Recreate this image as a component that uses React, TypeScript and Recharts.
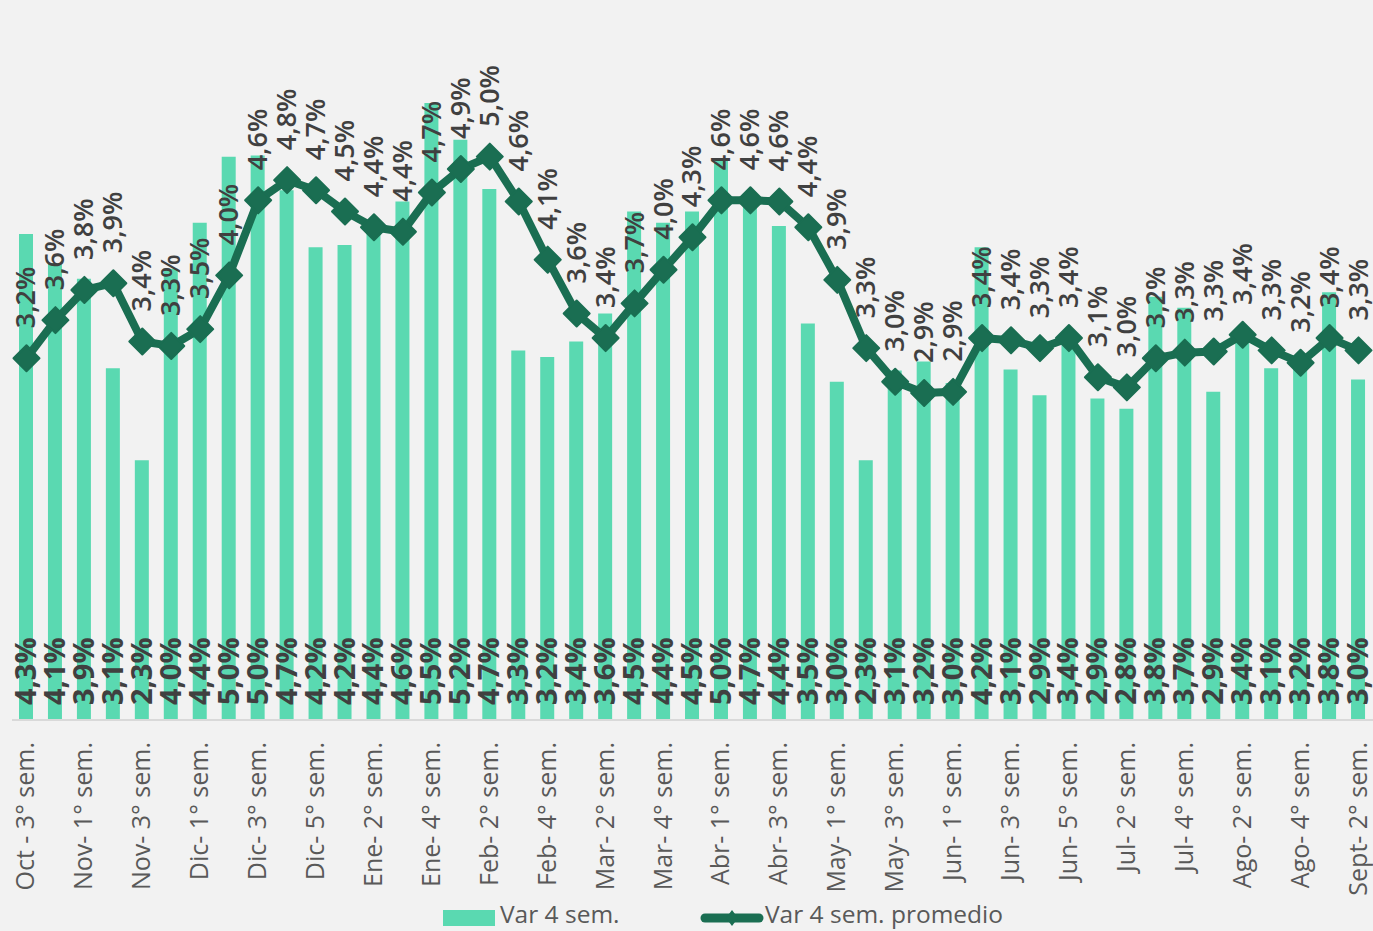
import { Bar, ComposedChart, LabelList, Legend, Line, XAxis, YAxis } from "recharts";

const SEMANAS = [
  "Oct - 3° sem.", "Oct - 4° sem.", "Nov- 1° sem.", "Nov- 2° sem.", "Nov- 3° sem.", "Nov- 4° sem.",
  "Dic- 1° sem.", "Dic- 2° sem.", "Dic- 3° sem.", "Dic- 4° sem.", "Dic- 5° sem.",
  "Ene- 1° sem.", "Ene- 2° sem.", "Ene- 3° sem.", "Ene- 4° sem.",
  "Feb- 1° sem.", "Feb- 2° sem.", "Feb- 3° sem.", "Feb- 4° sem.",
  "Mar- 1° sem.", "Mar- 2° sem.", "Mar- 3° sem.", "Mar- 4° sem.", "Mar- 5° sem.",
  "Abr- 1° sem.", "Abr- 2° sem.", "Abr- 3° sem.", "Abr- 4° sem.",
  "May- 1° sem.", "May- 2° sem.", "May- 3° sem.", "May- 4° sem.",
  "Jun- 1° sem.", "Jun- 2° sem.", "Jun- 3° sem.", "Jun- 4° sem.", "Jun- 5° sem.",
  "Jul- 1° sem.", "Jul- 2° sem.", "Jul- 3° sem.", "Jul- 4° sem.",
  "Ago- 1° sem.", "Ago- 2° sem.", "Ago- 3° sem.", "Ago- 4° sem.",
  "Sept- 1° sem.", "Sept- 2° sem.",
];

// Var 4 sem. (barras)
const VAR_4_SEM = [
  4.34, 4.08, 3.94, 3.14, 2.32, 4.03, 4.44, 5.03, 5.04, 4.73, 4.22, 4.24,
  4.38, 4.63, 5.51, 5.18, 4.74, 3.3, 3.24, 3.38, 3.63, 4.54, 4.44, 4.54,
  5.0, 4.7, 4.41, 3.54, 3.02, 2.32, 3.12, 3.2, 3.01, 4.22, 3.13, 2.9,
  3.4, 2.87, 2.78, 3.78, 3.68, 2.93, 3.4, 3.14, 3.18, 3.82, 3.04,
];

// Var 4 sem. promedio (línea)
const VAR_4_SEM_PROMEDIO = [
  3.23, 3.57, 3.84, 3.9, 3.38, 3.34, 3.49, 3.97, 4.64, 4.82, 4.73, 4.54,
  4.4, 4.36, 4.71, 4.92, 5.03, 4.63, 4.11, 3.63, 3.41, 3.72, 4.02, 4.31,
  4.64, 4.64, 4.63, 4.4, 3.93, 3.32, 3.02, 2.92, 2.93, 3.41, 3.39, 3.32,
  3.41, 3.06, 2.97, 3.23, 3.28, 3.29, 3.44, 3.3, 3.19, 3.41, 3.3,
];

const COLOR_BARRA = "#5AD9B1";
const COLOR_LINEA = "#1A6E52";
const COLOR_TEXTO = "#404040";
const COLOR_EJE = "#595959";
const FONT = "'Open Sans', sans-serif";

const data = SEMANAS.map((semana, i) => ({
  semana,
  var4: VAR_4_SEM[i],
  promedio: VAR_4_SEM_PROMEDIO[i],
}));

function pct(v: number): string {
  return v.toFixed(1).replace(".", ",") + "%";
}

function TickSemana(props: any) {
  const { x, y, payload } = props;
  const tx = x + 8;
  const ty = y + 20;
  return (
    <text
      x={tx}
      y={ty}
      transform={`rotate(-90 ${tx} ${ty})`}
      textAnchor="end"
      fontFamily={FONT}
      fontSize={25}
      fill={COLOR_EJE}
    >
      {payload.value}
    </text>
  );
}

function EtiquetaBarra(props: any) {
  const { x, y, width, height, value } = props;
  const tx = x + width / 2 + 10;
  const ty = y + height - 15;
  return (
    <text
      x={tx}
      y={ty}
      transform={`rotate(-90 ${tx} ${ty})`}
      textAnchor="start"
      fontFamily={FONT}
      fontWeight={700}
      fontSize={29}
      fill={COLOR_TEXTO}
    >
      {pct(value)}
    </text>
  );
}

function EtiquetaLinea(props: any) {
  const { x, y, value } = props;
  const tx = x + 9;
  const ty = y - 30;
  return (
    <text
      x={tx}
      y={ty}
      transform={`rotate(-90 ${tx} ${ty})`}
      textAnchor="start"
      fontFamily={FONT}
      fontWeight={600}
      fontSize={27}
      fill={COLOR_TEXTO}
    >
      {pct(value)}
    </text>
  );
}

function Rombo(props: any) {
  const { cx, cy, index } = props;
  const r = 13;
  return (
    <polygon
      key={`rombo-${index}`}
      points={`${cx},${cy - r} ${cx + r},${cy} ${cx},${cy + r} ${cx - r},${cy}`}
      fill={COLOR_LINEA}
      stroke={COLOR_LINEA}
      strokeWidth={2}
      strokeLinejoin="round"
    />
  );
}

function Leyenda() {
  const texto = {
    position: "absolute" as const,
    top: -3,
    fontFamily: FONT,
    fontSize: 24.5,
    lineHeight: "28px",
    color: COLOR_EJE,
    whiteSpace: "nowrap" as const,
  };
  return (
    <div style={{ position: "relative", height: 28 }}>
      <div style={{ position: "absolute", left: 431, top: 7, width: 52, height: 16, background: COLOR_BARRA }} />
      <span style={{ ...texto, left: 488 }}>Var 4 sem.</span>
      <svg style={{ position: "absolute", left: 688, top: 0 }} width={64} height={28}>
        <line x1={5} y1={15} x2={59} y2={15} stroke={COLOR_LINEA} strokeWidth={9} strokeLinecap="round" />
        <polygon points="32,7 38,15 32,23 26,15" fill={COLOR_LINEA} />
      </svg>
      <span style={{ ...texto, left: 753 }}>Var 4 sem. promedio</span>
    </div>
  );
}

export default function App() {
  return (
    <div style={{ position: "fixed", left: 0, top: 0, width: 1373, height: 931, background: "#F2F2F2" }}>
      <ComposedChart
        width={1373}
        height={931}
        data={data}
        margin={{ top: 48, right: 0, left: 12, bottom: 0 }}
      >
        <XAxis
          dataKey="semana"
          interval={1}
          tickLine={false}
          tickSize={0}
          height={183}
          axisLine={{ stroke: "#D9D9D9", strokeWidth: 2 }}
          tick={<TickSemana />}
        />
        <YAxis hide domain={[0, 6]} />
        <Legend verticalAlign="bottom" align="left" content={() => <Leyenda />} />
        <Bar dataKey="var4" name="Var 4 sem." fill={COLOR_BARRA} barSize={14} isAnimationActive={false}>
          <LabelList dataKey="var4" content={<EtiquetaBarra />} />
        </Bar>
        <Line
          dataKey="promedio"
          name="Var 4 sem. promedio"
          type="linear"
          stroke={COLOR_LINEA}
          strokeWidth={8}
          strokeLinejoin="round"
          dot={(p: any) => <Rombo key={`rombo-${p.index}`} {...p} />}
          activeDot={false}
          isAnimationActive={false}
        >
          <LabelList dataKey="promedio" content={<EtiquetaLinea />} />
        </Line>
      </ComposedChart>
    </div>
  );
}
